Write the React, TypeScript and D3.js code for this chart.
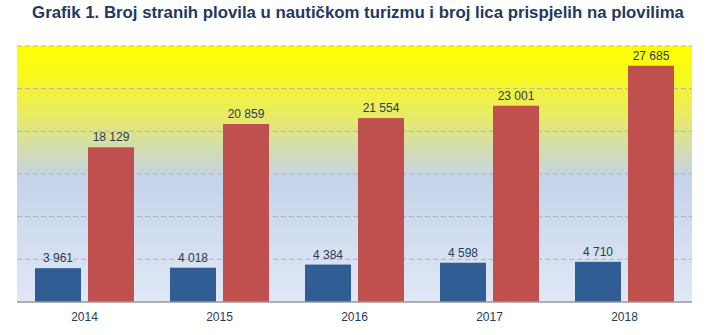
import React from "react";
import * as d3 from "d3";

const years = ["2014", "2015", "2016", "2017", "2018"];
const vessels = [3961, 4018, 4384, 4598, 4710];
const persons = [18129, 20859, 21554, 23001, 27685];
const yTicks = [0, 5000, 10000, 15000, 20000, 25000, 30000];
const title = "Grafik 1. Broj stranih plovila u nautičkom turizmu i broj lica prispjelih na plovilima";

const W = 712;
const H = 335;
const M = { left: 17, right: 20, top: 46, bottom: 33 };

const fmt = (v: number) => d3.format(",")(v).replace(/,/g, " ");

export default function App() {
  const x0 = d3
    .scaleBand<string>()
    .domain(years)
    .range([M.left, W - M.right])
    .paddingInner(0)
    .paddingOuter(0);
  const bw = 46;
  const gap = 7;
  const y = d3.scaleLinear().domain([0, 30000]).range([H - M.bottom, M.top]);
  const font = "Arial, 'Liberation Sans', sans-serif";

  return (
    <svg
      width={W}
      height={H}
      style={{ position: "absolute", left: 0, top: 0, background: "#fff" }}
    >
      <defs>
        <linearGradient id="bg" x1="0" y1="0" x2="0" y2="1">
          <stop offset="0%" stopColor="#ffff00" />
          <stop offset="12%" stopColor="#f8f820" />
          <stop offset="28%" stopColor="#e8ea6a" />
          <stop offset="40%" stopColor="#d3dcae" />
          <stop offset="52%" stopColor="#c5d4ea" />
          <stop offset="100%" stopColor="#e0e8f6" />
        </linearGradient>
      </defs>
      <text
        x={W / 2 + 2}
        y={18}
        textAnchor="middle"
        fontFamily={font}
        fontWeight="bold"
        fontSize={16.8}
        fill="#1f3864"
      >
        {title}
      </text>
      <rect
        x={M.left}
        y={M.top}
        width={W - M.left - M.right}
        height={H - M.top - M.bottom}
        fill="url(#bg)"
      />
      {yTicks.slice(1).map((t) => (
        <line
          key={t}
          x1={M.left}
          x2={W - M.right}
          y1={y(t)}
          y2={y(t)}
          stroke="#b4b4b4"
          strokeWidth={1}
          strokeDasharray="5,3"
        />
      ))}
      {years.map((yr, i) => {
        const cx = (x0(yr) as number) + x0.bandwidth() / 2;
        const bx = cx - gap / 2 - bw;
        const rx = cx + gap / 2;
        return (
          <g key={yr}>
            <rect
              x={bx}
              y={y(vessels[i])}
              width={bw}
              height={y(0) - y(vessels[i])}
              fill="#2f5d94"
            />
            <rect
              x={rx}
              y={y(persons[i])}
              width={bw}
              height={y(0) - y(persons[i])}
              fill="#c0504d"
            />
            <text
              x={bx + bw / 2}
              y={y(vessels[i]) - 6}
              textAnchor="middle"
              fontFamily={font}
              fontSize={12}
              fill="#2a3a55"
            >
              {fmt(vessels[i])}
            </text>
            <text
              x={rx + bw / 2}
              y={y(persons[i]) - 6}
              textAnchor="middle"
              fontFamily={font}
              fontSize={12}
              fill="#2a3a55"
            >
              {fmt(persons[i])}
            </text>
            <text
              x={cx}
              y={y(0) + 19}
              textAnchor="middle"
              fontFamily={font}
              fontSize={12}
              fill="#2a3a55"
            >
              {yr}
            </text>
          </g>
        );
      })}
      <line
        x1={M.left}
        x2={W - M.right}
        y1={y(0)}
        y2={y(0)}
        stroke="#999999"
        strokeWidth={1.5}
      />
    </svg>
  );
}
